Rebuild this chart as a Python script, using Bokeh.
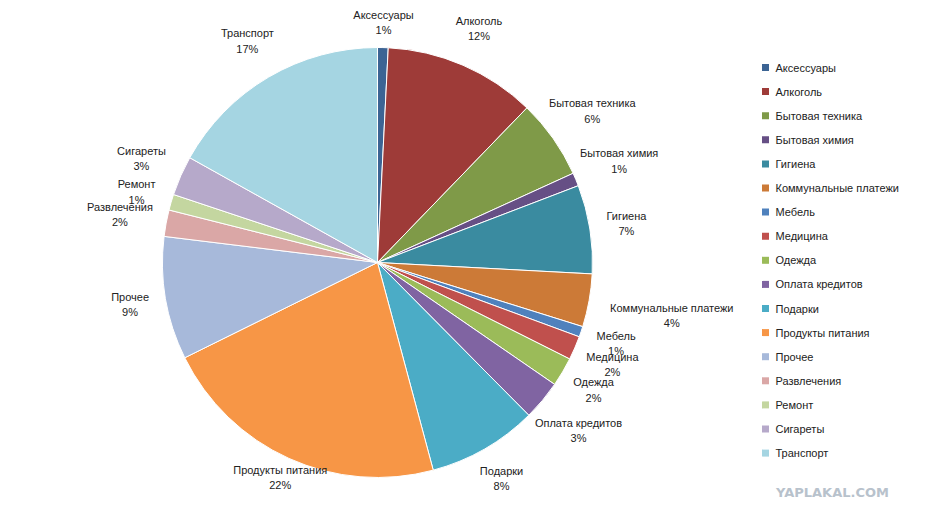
import numpy as np
from bokeh.plotting import figure
from bokeh.models import ColumnDataSource
from bokeh.core.properties import value
from bokeh.embed import file_html
from bokeh.resources import INLINE

categories = ["Аксессуары", "Алкоголь", "Бытовая техника", "Бытовая химия", "Гигиена",
              "Коммунальные платежи", "Мебель", "Медицина", "Одежда", "Оплата кредитов",
              "Подарки", "Продукты питания", "Прочее", "Развлечения", "Ремонт",
              "Сигареты", "Транспорт"]
shares = [0.8, 11.5, 6.0, 1.0, 6.7, 4.0, 0.8, 1.8, 2.2, 3.0, 8.3, 22.0, 9.3, 2.0, 1.2, 3.0, 17.0]
pct_labels = ["1%", "12%", "6%", "1%", "7%", "4%", "1%", "2%", "2%", "3%", "8%", "22%",
              "9%", "2%", "1%", "3%", "17%"]
colors = ["#3c6494", "#9e3b38", "#7f9a48", "#664f85", "#3a8ba0", "#cc7a37", "#4f81bd",
          "#c0504d", "#9bbb59", "#8064a2", "#4bacc6", "#f79646", "#a7b9da", "#daa7a6",
          "#c4d6a0", "#b6a9ca", "#a5d5e2"]

W, H = 911, 506
cx, cy, r = 377, H - 262, 215

frac = np.array(shares) / sum(shares)
cum = np.concatenate([[0], np.cumsum(frac)]) * 2 * np.pi
start = np.pi / 2 - cum[1:]
end = np.pi / 2 - cum[:-1]
mid = (cum[:-1] + cum[1:]) / 2

# label distance from centre, per slice (Excel "best fit" look)
lr = np.array([240, 255, 263, 262, 252, 299, 252, 256, 251, 262, 249, 236, 251, 262, 251, 258, 257],
              dtype=float)
lx = cx + lr * np.sin(mid)
ly = cy + lr * np.cos(mid)
lab = [f"{c}\n{p}" for c, p in zip(categories, pct_labels)]

src = ColumnDataSource(dict(start=start, end=end, color=colors, lx=lx, ly=ly, lab=lab,
                            name=categories,
                            gy=H - (67 + 24.1 * np.arange(len(categories)))))

p = figure(width=W, height=H, x_range=(0, W), y_range=(0, H), toolbar_location=None,
           output_backend="svg", min_border=0, border_fill_color="white")
p.axis.visible = False
p.grid.visible = False
p.outline_line_color = None

p.wedge(x=cx, y=cy, radius=r, start_angle="start", end_angle="end", fill_color="color",
        line_color="white", line_width=1, source=src)
p.text(x="lx", y="ly", text="lab", source=src, text_align="center", text_baseline="middle",
       text_font=value("Liberation Sans"), text_font_size="11px", text_color="#222222",
       text_line_height=1.3)

p.scatter(x=765, y="gy", marker="square", size=7, fill_color="color", line_color=None, source=src)
p.text(x=775, y="gy", text="name", source=src, text_baseline="middle",
       text_font=value("Liberation Sans"), text_font_size="11px", text_color="#222222")

p.text(x=[832], y=[H - 492], text=["YAPLAKAL.COM"], text_align="center", text_baseline="middle",
       text_font=value("DejaVu Sans"), text_font_size="13px", text_font_style="bold",
       text_color="#b8c2cc")

open("out.html", "w").write(file_html(p, INLINE))
